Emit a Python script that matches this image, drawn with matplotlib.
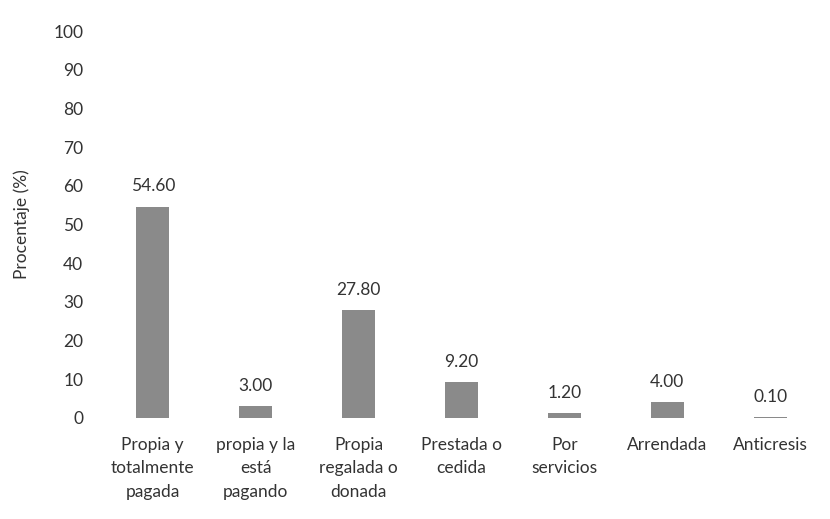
import matplotlib.pyplot as plt

categorias = ["Propia y\ntotalmente\npagada", "propia y la\nestá\npagando",
              "Propia\nregalada o\ndonada", "Prestada o\ncedida",
              "Por\nservicios", "Arrendada", "Anticresis"]
porcentajes = [54.60, 3.00, 27.80, 9.20, 1.20, 4.00, 0.10]
etiquetas = ["54.60", "3.00", "27.80", "9.20", "1.20", "4.00", "0.10"]

plt.rcParams['font.family'] = ['Lato', 'DejaVu Sans']
txt = '#333333'

fig = plt.figure(figsize=(8.3, 5.19), dpi=100)
ax = fig.add_axes([0.122, 0.195, 0.868, 0.745])

x = range(len(categorias))
bars = ax.bar(x, porcentajes, width=0.32, color='#8a8a8a')
for b, lab in zip(bars, etiquetas):
    ax.annotate(lab, (b.get_x() + b.get_width() / 2, b.get_height()),
                xytext=(0, 9), textcoords='offset points',
                ha='center', va='bottom', fontsize=12.5, color=txt)

ax.set_ylim(0, 100)
ax.set_xlim(-0.5, 6.5)
ax.set_yticks(range(0, 101, 10))
ax.set_xticks(list(x))
ax.set_xticklabels(categorias, linespacing=1.55)
ax.tick_params(axis='y', length=0, pad=13, labelsize=12.5, labelcolor=txt)
ax.tick_params(axis='x', length=0, pad=14, labelsize=12.5, labelcolor=txt)
for s in ax.spines.values():
    s.set_visible(False)
ax.set_ylabel('Procentaje (%)', fontsize=12.5, color=txt, labelpad=17)

fig.savefig('out.png', dpi=100)
